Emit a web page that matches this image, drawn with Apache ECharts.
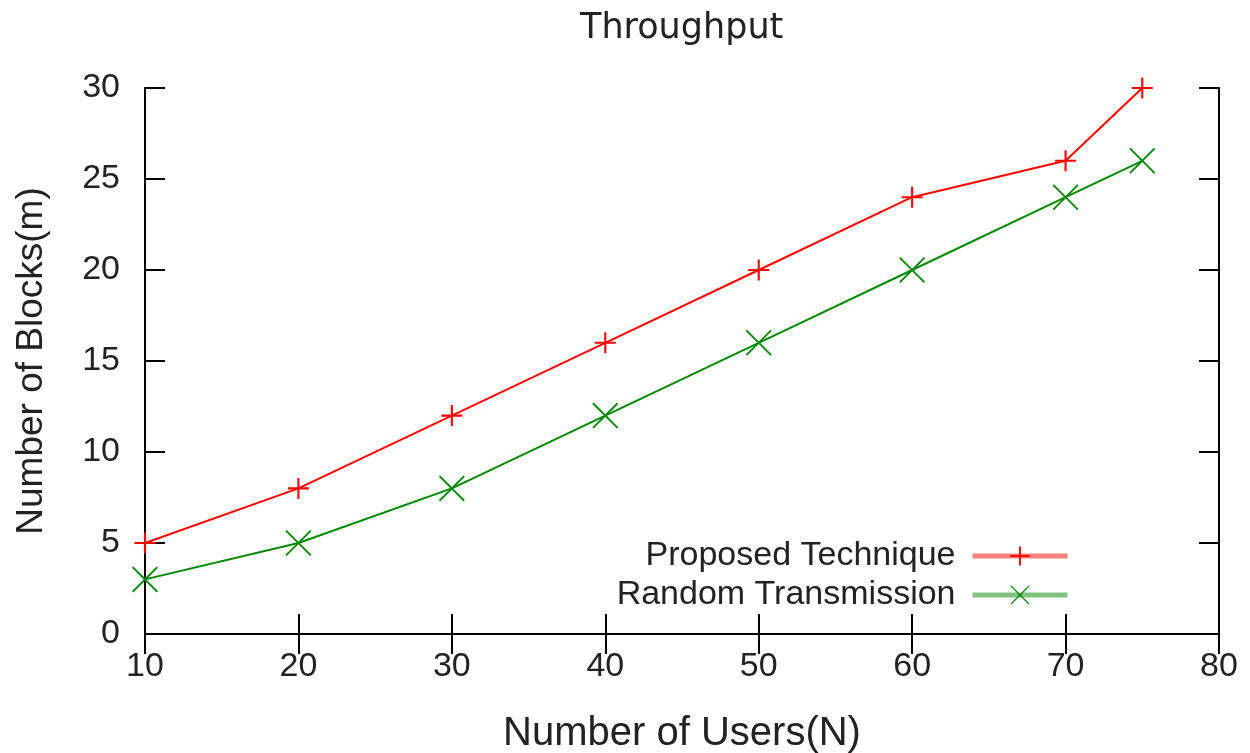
<!DOCTYPE html>
<html>
<head>
<meta charset="utf-8">
<script src="https://cdn.jsdelivr.net/npm/echarts@6/dist/echarts.min.js"></script>
<style>html,body{margin:0;padding:0;background:#fff}#c{width:1250px;height:753px}</style>
</head>
<body>
<div id="c"></div>
<script>
const users = [10, 20, 30, 40, 50, 60, 70, 75];
const proposed = [5, 8, 12, 16, 20, 24, 26, 30];
const randomTx = [3, 5, 8, 12, 16, 20, 24, 26];
const titleText = 'Throughput';
const xName = 'Number of Users(N)';
const yName = 'Number of Blocks(m)';
const seriesNames = ['Proposed Technique', 'Random Transmission'];

const FONT = '"Liberation Sans", Arial, sans-serif';
const plusPath = 'path://M-1,-10H1V-1H10V1H1V10H-1V1H-10V-1H-1Z';
const xPath = 'path://M-10,-9L-9,-10L0,-1L9,-10L10,-9L1,0L10,9L9,10L0,1L-9,10L-10,9L-1,0Z';

const chart = echarts.init(document.getElementById('c'), null, {renderer: 'canvas'});
const axisCommon = {
  axisLine: {show: true, lineStyle: {color: '#000', width: 2}},
  axisTick: {show: true, inside: true, length: 20, lineStyle: {color: '#000', width: 2}},
  splitLine: {show: false}
};
const legendCommon = {
  orient: 'vertical', right: 180, padding: 0, itemWidth: 95, itemHeight: 24, align: 'right',
  textStyle: {fontFamily: FONT, fontSize: 34, color: '#222', padding: [0, 12, 0, 0]},
  lineStyle: {width: 5, opacity: 0.5}
};
chart.setOption({
  animation: false,
  title: {text: titleText, left: 575, top: 6,
    textStyle: {fontFamily: '"DejaVu Sans", sans-serif', fontSize: 35, fontWeight: 'normal', color: '#222'}},
  grid: {left: 145, right: 31, top: 88, bottom: 119, containLabel: false, outerBoundsMode: 'none'},
  legend: [
    Object.assign({}, legendCommon, {top: 539, data: [seriesNames[0]]}),
    Object.assign({}, legendCommon, {top: 578, data: [seriesNames[1]]})
  ],
  xAxis: [
    Object.assign({type: 'value', min: 10, max: 80, interval: 10, position: 'bottom',
      name: xName, nameLocation: 'middle', nameGap: 80,
      nameTextStyle: {fontFamily: FONT, fontSize: 40, color: '#222'},
      axisLabel: {fontFamily: FONT, fontSize: 34, color: '#222', margin: 16}}, axisCommon),
    Object.assign({type: 'value', min: 10, max: 80, interval: 10, position: 'top',
      axisLabel: {show: false}}, axisCommon)
  ],
  yAxis: [
    Object.assign({type: 'value', min: 0, max: 30, interval: 5, position: 'left',
      name: yName, nameLocation: 'middle', nameGap: 95,
      nameTextStyle: {fontFamily: FONT, fontSize: 37, color: '#222'},
      axisLabel: {fontFamily: FONT, fontSize: 34, color: '#222', margin: 25}}, axisCommon),
    Object.assign({type: 'value', min: 0, max: 30, interval: 5, position: 'right',
      axisLabel: {show: false}}, axisCommon)
  ],
  series: [
    {name: seriesNames[0], type: 'line', clip: false, data: users.map((u, i) => [u, proposed[i]]),
      symbol: plusPath, symbolSize: 21, showAllSymbol: true,
      lineStyle: {color: '#ff0000', width: 2}, itemStyle: {color: '#ff0000'}, z: 3},
    {name: seriesNames[1], type: 'line', clip: false, data: users.map((u, i) => [u, randomTx[i]]),
      symbol: xPath, symbolSize: 26, showAllSymbol: true,
      lineStyle: {color: '#008800', width: 2}, itemStyle: {color: '#008800'}, z: 3}
  ]
});
</script>
</body>
</html>
